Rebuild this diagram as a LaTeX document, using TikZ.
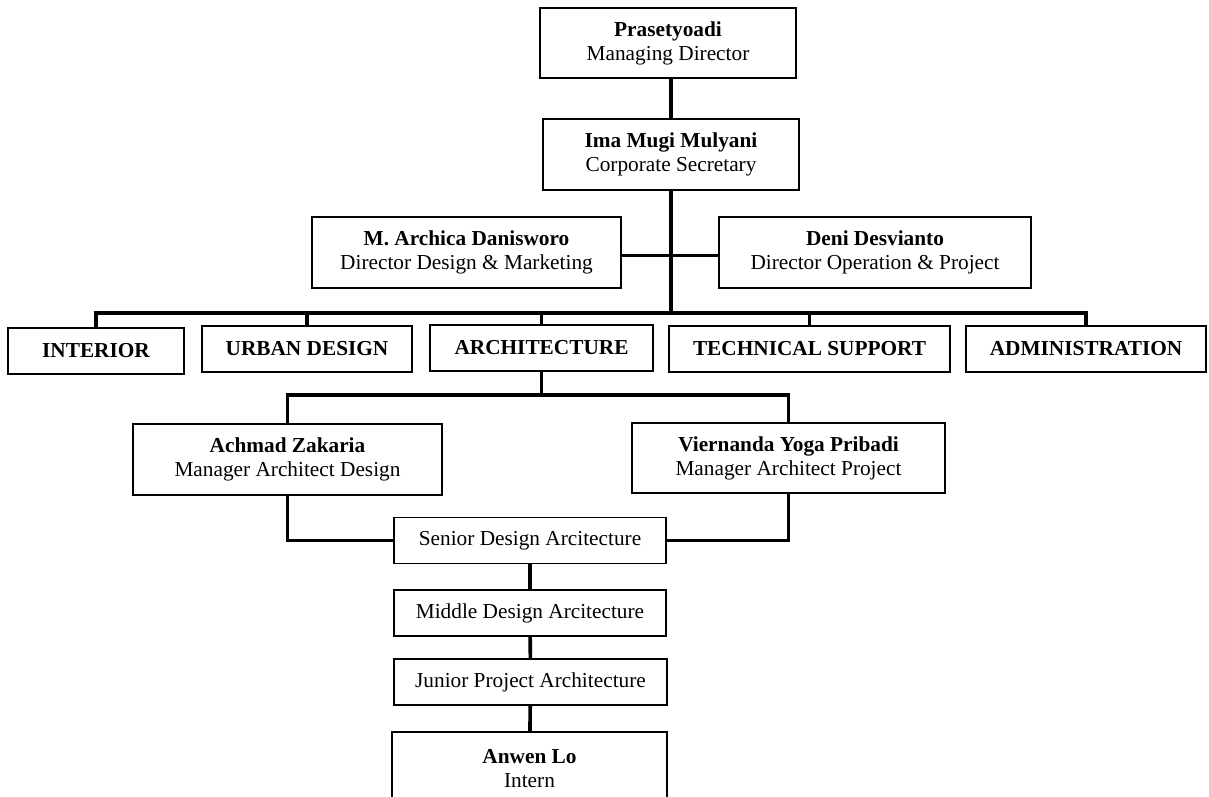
\documentclass[tikz,border=0pt]{standalone}
\usepackage{fontspec}
\setmainfont{Liberation Serif}
\usetikzlibrary{calc}

\begin{document}
\begin{tikzpicture}[x=1pt,y=-1pt,
		box/.style={draw,line width=1.4pt,inner sep=0pt,align=center,font=\fontsize{21.3}{24}\selectfont},
		dept/.style={box,minimum height=46pt,font=\fontsize{21.3}{24}\selectfont\bfseries},
		staff/.style={box,minimum width=272pt,minimum height=46pt},
		link/.style={line width=3.6pt}]
		\useasboundingbox (0,0) rectangle (1209,796);
		\clip (0,0) rectangle (1209,796);

		% directors
		\node[box,minimum width=256pt,minimum height=70pt] (md) at (668,43) {\textbf{Prasetyoadi}\\Managing Director};
		\node[box,minimum width=256pt,minimum height=71pt] (sec) at (671,154.5) {\textbf{Ima Mugi Mulyani}\\Corporate Secretary};
		\node[box,minimum width=309pt,minimum height=71pt] (ddm) at (466.5,252.5) {\textbf{M. Archica Danisworo}\\Director Design \& Marketing};
		\node[box,minimum width=312pt,minimum height=71pt] (dop) at (875,252.5) {\textbf{Deni Desvianto}\\Director Operation \& Project};

		% departments
		\coordinate (bus) at (0,313);
		\node[dept,minimum width=176pt] (interior) at (96,351) {INTERIOR};
		\node[dept,minimum width=210pt] (urban) at (307,349) {URBAN DESIGN};
		\node[dept,minimum width=223pt] (arch) at (541.5,348) {ARCHITECTURE};
		\node[dept,minimum width=281pt] (tech) at (809.5,349) {TECHNICAL SUPPORT};
		\node[dept,minimum width=240pt] (admin) at (1086,349) {ADMINISTRATION};

		% architecture
		\coordinate (bus2) at (0,395);
		\node[box,minimum width=309pt,minimum height=71pt] (mad) at (287.5,459.5) {\textbf{Achmad Zakaria}\\Manager Architect Design};
		\node[box,minimum width=313pt,minimum height=70pt] (map) at (788.5,458) {\textbf{Viernanda Yoga Pribadi}\\Manager Architect Project};
		\node[staff] (senior) at (530,540.5) {Senior Design Arcitecture};
		\node[staff] (middle) at (530,613) {Middle Design Arcitecture};
		\node[staff,minimum width=273pt] (junior) at (530.5,682) {Junior Project Architecture};
		\node[box,minimum width=275pt,minimum height=73pt] (intern) at (529.5,768.5) {\textbf{Anwen Lo}\\Intern};

		\draw[link] (sec.north |- md.south) -- (sec.north);
		\draw[link] (sec.south) -- (sec.south |- bus);
		\draw[link] ($(ddm.east)+(0,3)$) -- ($(dop.west)+(0,3)$);
		\draw[link] (interior.north) -- (interior.north |- bus) -- (admin.north |- bus) -- (admin.north);
		\foreach \d in {urban,arch,tech}
			\draw[link] (\d.north) -- (\d.north |- bus);

		\draw[link] (arch.south) -- (arch.south |- bus2);
		\draw[link] (mad.north) -- (mad.north |- bus2) -- (map.north |- bus2) -- (map.north);
		\draw[link] (mad.south) -- (mad.south |- senior.west) -- (senior.west);
		\draw[link] (map.south) -- (map.south |- senior.east) -- (senior.east);
		\draw[link] (senior) -- (middle);
		\draw[link] (middle) -- (junior);
		\draw[link] (junior) -- (intern);
	\end{tikzpicture}
\end{document}
